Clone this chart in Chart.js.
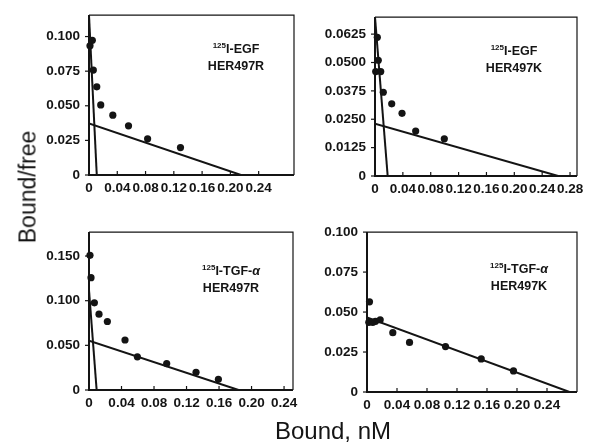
<!DOCTYPE html>
<html>
<head>
<meta charset="utf-8">
<script src="https://cdn.jsdelivr.net/npm/chart.js@4.4.1/dist/chart.umd.min.js"></script>
<style>
  body { margin: 0; background: #fff; }
  #wrap { position: relative; width: 600px; height: 444px; overflow: hidden; font-family: "Liberation Sans", Arial, sans-serif; color: #141414; }
  canvas { position: absolute; }
  .note { position: absolute; width: 100px; text-align: center; font-weight: bold; font-size: 12.5px; line-height: 17px; }
  .note sup { font-size: 8px; vertical-align: 5px; line-height: 0; }
  .ytitle { position: absolute; left: 28px; top: 187px; font-size: 23px; white-space: nowrap; transform: translate(-50%, -50%) rotate(-90deg); }
  .xtitle { position: absolute; left: 333px; top: 431px; font-size: 24px; white-space: nowrap; transform: translate(-50%, -50%); }
</style>
</head>
<body>
<div id="wrap">
  <canvas id="c1"></canvas>
  <canvas id="c2"></canvas>
  <canvas id="c3"></canvas>
  <canvas id="c4"></canvas>
  <div class="note" style="left:186px; top:41px;"><sup>125</sup>I-EGF<br>HER497R</div>
  <div class="note" style="left:464px; top:43px;"><sup>125</sup>I-EGF<br>HER497K</div>
  <div class="note" style="left:181px; top:263px;"><sup>125</sup>I-TGF-<i>α</i><br>HER497R</div>
  <div class="note" style="left:469px; top:261px;"><sup>125</sup>I-TGF-<i>α</i><br>HER497K</div>
  <div class="ytitle">Bound/free</div>
  <div class="xtitle">Bound, nM</div>
</div>
<script>
// tick labels
const xTicksShort = [0, 0.04, 0.08, 0.12, 0.16, 0.20, 0.24];
const xTicksLong = [0, 0.04, 0.08, 0.12, 0.16, 0.20, 0.24, 0.28];
const yTicksEgfR = [0, 0.025, 0.05, 0.075, 0.1];
const yTicksEgfK = [0, 0.0125, 0.025, 0.0375, 0.05, 0.0625];
const yTicksTgfR = [0, 0.05, 0.1, 0.15];
const yTicksTgfK = [0, 0.025, 0.05, 0.075, 0.1];

// 125I-EGF, HER497R
const egfRBound = [0.0014, 0.0047, 0.0061, 0.011, 0.0166, 0.0337, 0.0559, 0.0829, 0.1294];
const egfRRatio = [0.0933, 0.0973, 0.0758, 0.0637, 0.0506, 0.0432, 0.0355, 0.0261, 0.0198];
const egfRHighX = [0, 0.011];
const egfRHighY = [0.1155, 0];
const egfRLowX = [0, 0.215];
const egfRLowY = [0.0373, 0];

// 125I-EGF, HER497K
const egfKBound = [0.0033, 0.001, 0.0082, 0.0047, 0.0119, 0.024, 0.0388, 0.0584, 0.0995];
const egfKRatio = [0.0611, 0.046, 0.046, 0.051, 0.0369, 0.0318, 0.0276, 0.0198, 0.0164];
const egfKHighX = [0, 0.0182];
const egfKHighY = [0.07, 0];
const egfKLowX = [0, 0.263];
const egfKLowY = [0.023, 0];

// 125I-TGF-alpha, HER497R
const tgfRBound = [0.0012, 0.0025, 0.0066, 0.0123, 0.0226, 0.0443, 0.0595, 0.0956, 0.1317, 0.1592];
const tgfRRatio = [0.1508, 0.1258, 0.0976, 0.0849, 0.0767, 0.056, 0.0372, 0.0296, 0.0199, 0.0119];
const tgfRHighX = [0, 0.0094];
const tgfRHighY = [0.112, 0];
const tgfRLowX = [0, 0.184];
const tgfRLowY = [0.0553, 0];

// 125I-TGF-alpha, HER497K
const tgfKBound = [0.0033, 0.0024, 0.0077, 0.0113, 0.0176, 0.0344, 0.0567, 0.1047, 0.1523, 0.1953];
const tgfKRatio = [0.0564, 0.0436, 0.0436, 0.0442, 0.0452, 0.0371, 0.031, 0.0284, 0.0207, 0.0132];
const tgfKLineX = [0, 0.27];
const tgfKLineY = [0.0467, 0];

const ink = '#141414';
const toPoints = (xs, ys) => xs.map((x, i) => ({ x: x, y: ys[i] }));

const framePlugin = {
  id: 'frame',
  afterDatasetsDraw(chart) {
    const { ctx, chartArea: a, scales } = chart;
    ctx.save();
    ctx.strokeStyle = ink;
    ctx.lineWidth = 1.2;
    ctx.beginPath();
    ctx.moveTo(a.left, a.top);
    ctx.lineTo(a.right, a.top);
    ctx.lineTo(a.right, a.bottom);
    ctx.stroke();
    ctx.lineWidth = 2;
    ctx.beginPath();
    ctx.moveTo(a.left, a.top);
    ctx.lineTo(a.left, a.bottom);
    ctx.lineTo(a.right, a.bottom);
    ctx.stroke();
    ctx.lineWidth = 1.2;
    scales.x.ticks.forEach(t => {
      const px = scales.x.getPixelForValue(t.value);
      ctx.beginPath(); ctx.moveTo(px, a.bottom); ctx.lineTo(px, a.bottom - 4); ctx.stroke();
    });
    scales.y.ticks.forEach(t => {
      const py = scales.y.getPixelForValue(t.value);
      ctx.beginPath(); ctx.moveTo(a.left - 4, py); ctx.lineTo(a.left, py); ctx.stroke();
    });
    ctx.restore();
  }
};

function makePanel(id, box, xMax, yMax, xTicks, yTicks, yDigits, bound, ratio, lines) {
  const padL = 60, padT = 12, padR = 24, padB = 28;
  const w = box[2] - box[0] + padL + padR;
  const h = box[3] - box[1] + padT + padB;
  const cv = document.getElementById(id);
  cv.width = w; cv.height = h;
  cv.style.left = (box[0] - padL) + 'px';
  cv.style.top = (box[1] - padT) + 'px';
  cv.style.width = w + 'px';
  cv.style.height = h + 'px';

  const datasets = lines.map(l => ({
    data: toPoints(l[0], l[1]),
    showLine: true,
    borderColor: ink,
    borderWidth: 2,
    pointRadius: 0,
    fill: false
  }));
  datasets.push({
    data: toPoints(bound, ratio),
    showLine: false,
    pointRadius: 3.6,
    backgroundColor: ink,
    borderWidth: 0,
    clip: false
  });

  const font = { family: '"Liberation Sans", Arial, sans-serif', size: 13.5, weight: 'bold' };
  new Chart(cv, {
    type: 'scatter',
    data: { datasets },
    plugins: [framePlugin],
    options: {
      responsive: false,
      animation: false,
      layout: { padding: { left: 0, top: padT, right: padR, bottom: 0 } },
      plugins: { legend: { display: false }, tooltip: { enabled: false } },
      scales: {
        x: {
          type: 'linear', min: 0, max: xMax,
          grid: { display: false, drawTicks: false },
          border: { display: false },
          afterBuildTicks: s => { s.ticks = xTicks.map(v => ({ value: v })); },
          afterFit: s => { s.height = padB; },
          ticks: {
            color: ink, font, padding: 5, maxRotation: 0, autoSkip: false,
            callback: v => v === 0 ? '0' : v.toFixed(2)
          }
        },
        y: {
          type: 'linear', min: 0, max: yMax,
          grid: { display: false, drawTicks: false },
          border: { display: false },
          afterBuildTicks: s => { s.ticks = yTicks.map(v => ({ value: v })); },
          afterFit: s => { s.width = padL; },
          ticks: {
            color: ink, font, padding: 9, autoSkip: false,
            callback: v => v === 0 ? '0' : v.toFixed(yDigits)
          }
        }
      }
    }
  });
}

makePanel('c1', [89, 10, 294, 175], 0.29, 0.1155, xTicksShort, yTicksEgfR, 3,
  egfRBound, egfRRatio, [[egfRHighX, egfRHighY], [egfRLowX, egfRLowY]]);
makePanel('c2', [375, 12, 577, 176], 0.29, 0.07, xTicksLong, yTicksEgfK, 4,
  egfKBound, egfKRatio, [[egfKHighX, egfKHighY], [egfKLowX, egfKLowY]]);
makePanel('c3', [89, 227, 293, 390], 0.251, 0.1768, xTicksShort, yTicksTgfR, 3,
  tgfRBound, tgfRRatio, [[tgfRHighX, tgfRHighY], [tgfRLowX, tgfRLowY]]);
makePanel('c4', [367, 227, 577, 392], 0.28, 0.1, xTicksShort, yTicksTgfK, 3,
  tgfKBound, tgfKRatio, [[tgfKLineX, tgfKLineY]]);
</script>
</body>
</html>
